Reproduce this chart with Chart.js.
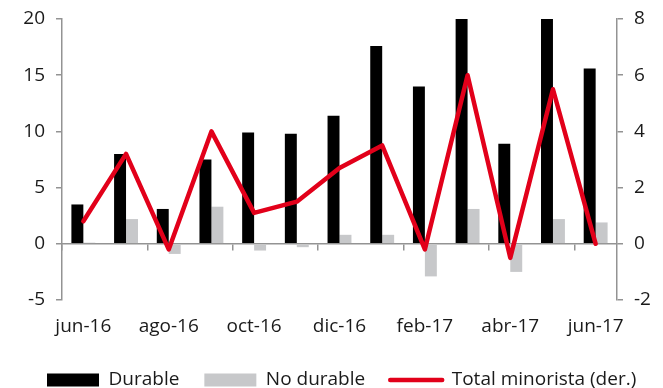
<!DOCTYPE html>
<html lang="es">
<head>
<meta charset="utf-8">
<title>Ventas minoristas</title>
<script src="https://cdn.jsdelivr.net/npm/chart.js@4/dist/chart.umd.min.js"></script>
<style>
  html, body { margin: 0; padding: 0; background: #ffffff; }
  #wrap { position: relative; width: 663px; height: 388px; }
</style>
</head>
<body>
<div id="wrap"><canvas id="chart"></canvas></div>
<script>
// Months shown on the category axis
const categories = ['jun-16', 'jul-16', 'ago-16', 'sep-16', 'oct-16', 'nov-16', 'dic-16',
                    'ene-17', 'feb-17', 'mar-17', 'abr-17', 'may-17', 'jun-17'];

// Left axis series (bars)
const durable   = [3.5, 8.0, 3.1, 7.5, 9.9, 9.8, 11.4, 17.6, 14.0, 20.0, 8.9, 20.0, 15.6];
const noDurable = [0.1, 2.2, -0.9, 3.3, -0.6, -0.3, 0.8, 0.8, -2.9, 3.1, -2.5, 2.2, 1.9];

// Right axis series (line)
const totalMinorista = [0.8, 3.2, -0.2, 4.0, 1.1, 1.5, 2.7, 3.5, -0.2, 6.0, -0.5, 5.5, 0.0];

// Axis tick values
const leftTicks  = [-5, 0, 5, 10, 15, 20];
const rightTicks = [-2, 0, 2, 4, 6, 8];

const AXIS_GREY = '#939393';
const TEXT = '#1a1a1a';
const FONT = 19;
const LEGEND_PAD = 25;
const LEGEND_HEIGHT = 388 - 380 + LEGEND_PAD + FONT / 2;

Chart.defaults.font.family = "'Open Sans', 'Noto Sans', sans-serif";
Chart.defaults.font.size = FONT;
Chart.defaults.color = TEXT;

// value axes: no extra room reserved above/below for the end labels
const noEndPadding = scale => { scale.paddingTop = 0; scale.paddingBottom = 0; };

new Chart(document.getElementById('chart'), {
  type: 'bar',
  data: {
    labels: categories,
    datasets: [
      {
        label: 'Durable',
        data: durable,
        backgroundColor: '#000000',
        borderWidth: 0,
        yAxisID: 'y',
        categoryPercentage: 0.56,
        barPercentage: 1.0,
        order: 1
      },
      {
        label: 'No durable',
        data: noDurable,
        backgroundColor: '#c7c8ca',
        borderWidth: 0,
        yAxisID: 'y',
        categoryPercentage: 0.56,
        barPercentage: 1.0,
        order: 1
      },
      {
        type: 'line',
        label: 'Total minorista (der.)',
        data: totalMinorista,
        borderColor: '#e2001a',
        backgroundColor: '#e2001a',
        borderWidth: 4.5,
        borderJoinStyle: 'round',
        borderCapStyle: 'round',
        pointRadius: 0,
        tension: 0,
        fill: false,
        yAxisID: 'y1',
        order: 0
      }
    ]
  },
  options: {
    responsive: true,
    maintainAspectRatio: false,
    animation: false,
    layout: { padding: { top: 19, left: 22, right: -12, bottom: 0 } },
    plugins: {
      tooltip: { enabled: false },
      legend: {
        position: 'bottom',
        align: 'start',
        maxHeight: LEGEND_HEIGHT,
        labels: {
          usePointStyle: true,
          pointStyleWidth: 52,
          boxHeight: 13,
          padding: LEGEND_PAD,
          color: TEXT,
          font: { size: FONT },
          sort: (a, b) => a.datasetIndex - b.datasetIndex,
          generateLabels(chart) {
            const items = Chart.defaults.plugins.legend.labels.generateLabels(chart);
            items.forEach(item => {
              const ds = chart.data.datasets[item.datasetIndex];
              if (ds.type === 'line') {
                item.pointStyle = 'line';
                item.strokeStyle = ds.borderColor;
                item.lineWidth = ds.borderWidth;
                item.lineCap = 'round';
              } else {
                item.pointStyle = 'rect';
                item.fillStyle = ds.backgroundColor;
                item.lineWidth = 0;
              }
            });
            return items;
          }
        }
      }
    },
    scales: {
      // axis line across the zero level, with a tick mark every second month
      x: {
        type: 'category',
        position: { y: 0 },
        offset: true,
        grid: {
          offset: true,
          drawOnChartArea: false,
          drawTicks: true,
          tickLength: 6,
          lineWidth: 1.5,
          color: ctx => (ctx.index % 2 === 0 ? AXIS_GREY : 'rgba(0,0,0,0)')
        },
        border: { display: true, color: AXIS_GREY, width: 1.5 },
        ticks: { display: false }
      },
      // month labels along the bottom
      x2: {
        type: 'category',
        position: 'bottom',
        offset: true,
        grid: { display: false, drawTicks: false },
        border: { display: false },
        ticks: {
          autoSkip: false,
          maxRotation: 0,
          padding: 15,
          color: TEXT,
          font: { size: FONT },
          callback: (value, index) => (index % 2 === 0 ? categories[index] : '')
        },
        afterFit: scale => { scale.height = 388 - 300 - LEGEND_HEIGHT; }
      },
      y: {
        position: 'left',
        min: leftTicks[0],
        max: leftTicks[leftTicks.length - 1],
        afterBuildTicks: scale => { scale.ticks = leftTicks.map(v => ({ value: v })); },
        grid: { drawOnChartArea: false, drawTicks: true, tickLength: 6, color: AXIS_GREY, lineWidth: 1.5 },
        border: { display: true, color: AXIS_GREY, width: 1.5 },
        ticks: { padding: 11, color: TEXT, font: { size: FONT } },
        afterFit: scale => { scale.width = 40; noEndPadding(scale); }
      },
      y1: {
        position: 'right',
        min: rightTicks[0],
        max: rightTicks[rightTicks.length - 1],
        afterBuildTicks: scale => { scale.ticks = rightTicks.map(v => ({ value: v })); },
        grid: { drawOnChartArea: false, drawTicks: true, tickLength: 6, color: AXIS_GREY, lineWidth: 1.5 },
        border: { display: true, color: AXIS_GREY, width: 1.5 },
        ticks: { padding: 11, color: TEXT, font: { size: FONT } },
        afterFit: scale => { scale.width = 58; noEndPadding(scale); }
      }
    }
  }
});
</script>
</body>
</html>
